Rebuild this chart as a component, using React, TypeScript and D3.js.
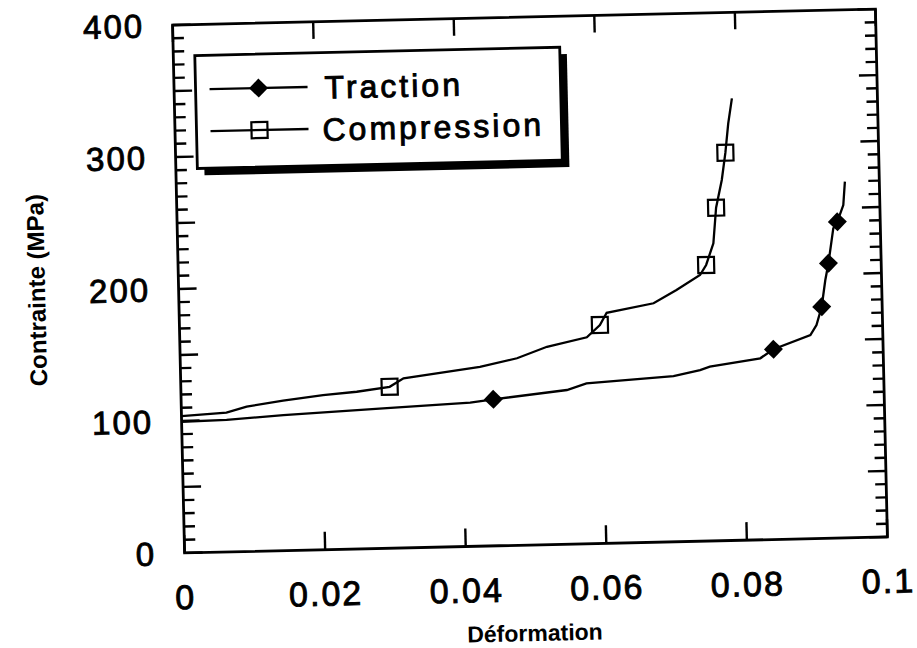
import React from "react";
import * as d3 from "d3";

// ---- data ----
const compressionStrain = [0, 0.0064, 0.0093, 0.0145, 0.0202, 0.025, 0.0297, 0.0317, 0.0426, 0.0479, 0.0522, 0.0579, 0.0598, 0.0608, 0.0675, 0.0708, 0.0742, 0.0751, 0.0762, 0.0767, 0.0776, 0.0782, 0.0787, 0.0793];
const compressionStress = [103.7, 105.5, 109.7, 113.6, 117.2, 119.1, 122.3, 128.5, 135.9, 141.7, 149.9, 156.4, 165.5, 174.6, 181, 190.7, 201.6, 209.1, 225.4, 252.3, 273.2, 293.8, 316, 334.9];
const compressionMarkerIdx = [6, 12, 17, 19, 21];

const tractionStrain = [0, 0.0064, 0.0145, 0.0287, 0.0411, 0.0444, 0.0549, 0.0577, 0.0701, 0.0739, 0.0753, 0.0825, 0.0844, 0.0897, 0.0906, 0.0914, 0.092, 0.0925, 0.0933, 0.0939, 0.0948, 0.0951];
const tractionStress = [99.4, 100, 102.7, 106.1, 108.9, 111, 116.8, 121.5, 125.5, 129.6, 132, 137.5, 144.1, 154.2, 161.7, 175.5, 195.7, 208.3, 234.7, 239.6, 252.1, 269.8];
const tractionMarkerIdx = [5, 12, 15, 17, 19];

const xTicks = [0, 0.02, 0.04, 0.06, 0.08, 0.1];
const xTickLabels = ["0", "0.02", "0.04", "0.06", "0.08", "0.1"];
const yTicks = [0, 100, 200, 300, 400];
const yTickLabels = ["0", "100", "200", "300", "400"];
const yMinorTicks = [10, 20, 30, 40, 60, 70, 80, 90, 110, 120, 130, 140, 160, 170, 180, 190, 210, 220, 230, 240, 260, 270, 280, 290, 310, 320, 330, 340, 360, 370, 380, 390];
const yMidTicks = [0, 50, 100, 150, 200, 250, 300, 350, 400];
const seriesNames = ["Traction", "Compression"];
const xTitle = "Déformation";
const yTitle = "Contrainte  (MPa)";

const W = 917, H = 648;
const L = 178.5, R = 881.5, T = 17, B = 545;
const FONT = "'Liberation Sans', Arial, Helvetica, sans-serif";

export default function App() {
  const x = d3.scaleLinear().domain([0, 0.1]).range([L, R]);
  const y = d3.scaleLinear().domain([0, 400]).range([B, T]);
  const line = d3.line<[number, number]>().x(d => x(d[0])).y(d => y(d[1]));
  const comp: [number, number][] = compressionStrain.map((s, i) => [s, compressionStress[i]]);
  const trac: [number, number][] = tractionStrain.map((s, i) => [s, tractionStress[i]]);

  const square = (cx: number, cy: number, k: string) => (
    <rect key={k} x={cx - 8} y={cy - 8} width={16} height={16} fill="none" stroke="black" strokeWidth={2.2} />
  );
  const diamond = (cx: number, cy: number, k: string) => (
    <path key={k} d={`M${cx},${cy - 9.5}L${cx + 9.5},${cy}L${cx},${cy + 9.5}L${cx - 9.5},${cy}Z`} fill="black" />
  );
  const heavy = { stroke: "black", strokeWidth: 0.9 };

  return (
    <svg width={W} height={H} style={{ position: "absolute", left: 0, top: 0, background: "white" }} fontFamily={FONT}>
      <rect width={W} height={H} fill="white" />
      <g transform="rotate(-1.3, 530, 281)">
        {/* frame */}
        <rect x={L} y={T} width={R - L} height={B - T} fill="none" stroke="black" strokeWidth={2.8} />
        {/* minor y ticks */}
        {yMinorTicks.map(v => (
          <g key={"ym" + v}>
            <rect x={L} y={y(v) - 1.2} width={11} height={2.4} fill="black" />
            <rect x={R - 11} y={y(v) - 1.2} width={11} height={2.4} fill="black" />
          </g>
        ))}
        {/* mid y ticks */}
        {yMidTicks.map(v => (
          <g key={"yM" + v}>
            <rect x={L} y={y(v) - 1.2} width={18} height={2.4} fill="black" />
            <rect x={R - 18} y={y(v) - 1.2} width={18} height={2.4} fill="black" />
          </g>
        ))}
        {/* x ticks */}
        {xTicks.map(v => (
          <g key={"xt" + v}>
            <rect x={x(v) - 1.2} y={B - 18} width={2.4} height={18} fill="black" />
            <rect x={x(v) - 1.2} y={T} width={2.4} height={17} fill="black" />
          </g>
        ))}
        {/* tick labels */}
        {yTicks.map((v, i) => (
          <text key={"yl" + v} x={150} y={y(v)} dy="0.36em" textAnchor="end" fontSize={33} letterSpacing={2} {...heavy}>{yTickLabels[i]}</text>
        ))}
        {xTicks.map((v, i) => (
          <text key={"xl" + v} x={x(v)} y={601} textAnchor="middle" fontSize={34} letterSpacing={2} {...heavy}>{xTickLabels[i]}</text>
        ))}
        {/* axis titles */}
        <text x={527} y={641} textAnchor="middle" fontSize={23} fontWeight="bold">{xTitle}</text>
        <text transform="translate(45,279) rotate(-90)" textAnchor="middle" fontSize={24} fontWeight="bold">{yTitle}</text>

        {/* curves */}
        <path d={line(comp) || ""} fill="none" stroke="black" strokeWidth={2.3} />
        <path d={line(trac) || ""} fill="none" stroke="black" strokeWidth={2.3} />
        {compressionMarkerIdx.map(i => square(x(comp[i][0]), y(comp[i][1]), "cm" + i))}
        {tractionMarkerIdx.map(i => diamond(x(trac[i][0]), y(trac[i][1]), "tm" + i))}

        {/* legend */}
        <rect x={207} y={55} width={365} height={113} fill="black" />
        <rect x={200} y={48} width={365} height={113} fill="white" stroke="black" strokeWidth={2.8} />
        <line x1={214} x2={312} y1={82} y2={82} stroke="black" strokeWidth={2.3} />
        {diamond(263, 82, "ld")}
        <text x={329} y={94} fontSize={32} letterSpacing={3} {...heavy}>{seriesNames[0]}</text>
        <line x1={214} x2={312} y1={124} y2={124} stroke="black" strokeWidth={2.3} />
        {square(263, 124, "ls")}
        <text x={326} y={136} fontSize={32} letterSpacing={3} {...heavy}>{seriesNames[1]}</text>
      </g>
    </svg>
  );
}
